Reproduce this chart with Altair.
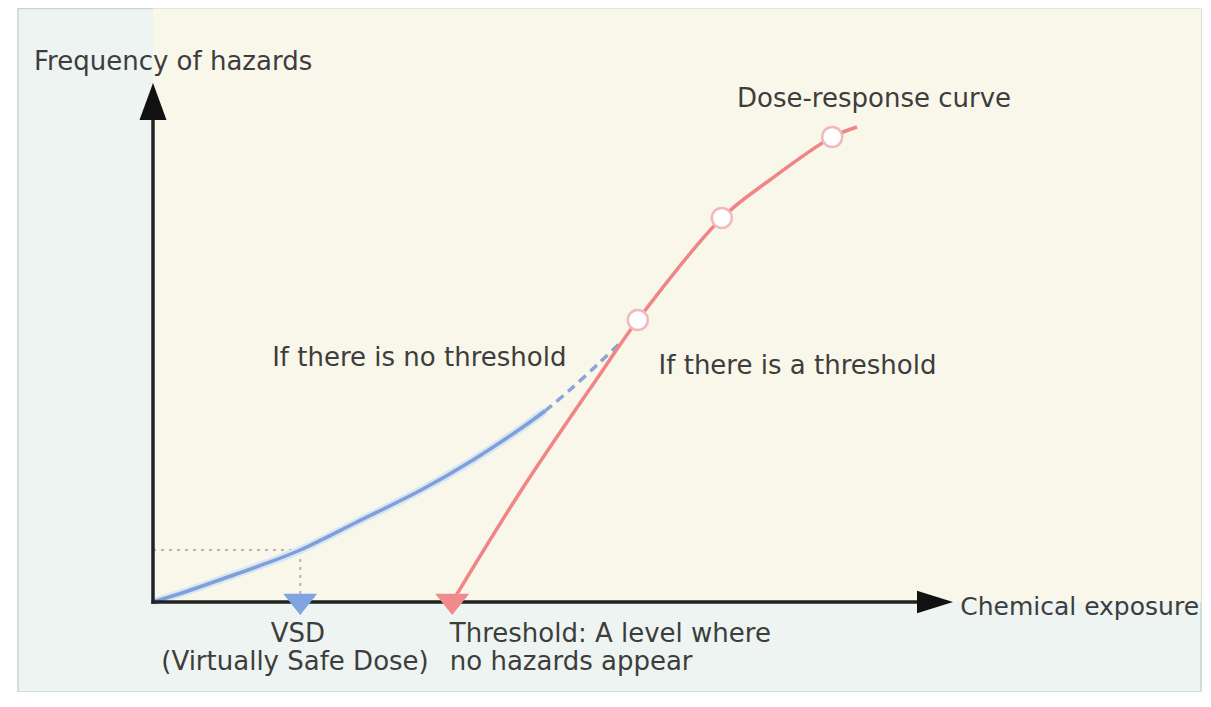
import altair as alt
import pandas as pd

# ---- scale domains (abstract units: exposure / frequency) ----
X_DOMAIN = [-18.125, 131.25]
Y_DOMAIN = [-15.0, 99.0]

# ---- curve data ----
blue_solid_dose = [0, 4, 9, 13.6, 18.4, 25.5, 33.75, 40, 46.25, 49]
blue_solid_freq = [0, 1.67, 4, 6.17, 8.67, 13.33, 18.83, 23.67, 29.17, 31.83]
blue_dash_dose = [49, 52.1, 55.9, 58.4]
blue_dash_freq = [31.83, 35.33, 40, 43.17]
red_dose = [37.4, 45.9, 55.9, 60.6, 71.1, 77.1, 84.9, 88]
red_freq = [0, 18.33, 38.0, 47.0, 64, 70.33, 77.5, 79.17]
circle_dose = [60.6, 71.1, 84.9]
circle_freq = [47.0, 64, 77.5]
vsd_dose = 18.4
vsd_freq = 8.67
threshold_dose = 37.4

# ---- axes extents ----
y_axis_top = 81.0
x_axis_end = 96.0
y_arrow_center = 83.4
x_arrow_center = 97.75

# ---- panel extents ----
frame_x = [-16.875, 131.0]
frame_y = [-15.0, 98.9]
cream_x = [0.0, 131.0]
cream_y = [0.0, 98.9]

# ---- labels ----
left_labels = ["Frequency of hazards", "Dose-response curve", "If there is no threshold",
               "If there is a threshold", "Threshold: A level where", "no hazards appear"]
left_x = [-14.875, 73.0, 14.9, 63.2, 37.1, 37.1]
left_y = [88.67, 82.5, 39.3, 38.0, -6.67, -11.33]
axis_label = ["Chemical exposure"]
axis_label_x = [100.9]
axis_label_y = [-2.17]
center_labels = ["VSD", "(Virtually Safe Dose)"]
center_x = [18.1, 17.75]
center_y = [-6.67, -11.33]

xs = alt.Scale(domain=X_DOMAIN, nice=False, zero=False)
ys = alt.Scale(domain=Y_DOMAIN, nice=False, zero=False)


def X(f):
    return alt.X(f, type="quantitative", scale=xs, axis=None)


def Y(f):
    return alt.Y(f, type="quantitative", scale=ys, axis=None)


def line_df(xv, yv):
    return pd.DataFrame({"x": xv, "y": yv, "i": list(range(len(xv)))})


frame = alt.Chart(pd.DataFrame({"x": [frame_x[0]], "x2": [frame_x[1]], "y": [frame_y[0]], "y2": [frame_y[1]]})).mark_rect(
    fill="#eef4f1", stroke="#c9d6c3", strokeWidth=1.5
).encode(x=X("x"), x2="x2", y=Y("y"), y2="y2")

cream = alt.Chart(pd.DataFrame({"x": [cream_x[0]], "x2": [cream_x[1]], "y": [cream_y[0]], "y2": [cream_y[1]]})).mark_rect(
    fill="#f8f7e9"
).encode(x=X("x"), x2="x2", y=Y("y"), y2="y2")

dotted_h = alt.Chart(pd.DataFrame({"x": [0], "x2": [vsd_dose], "y": [vsd_freq]})).mark_rule(
    color="#b5b5aa", strokeWidth=2, strokeDash=[3, 5]
).encode(x=X("x"), x2="x2", y=Y("y"))
dotted_v = alt.Chart(pd.DataFrame({"x": [vsd_dose], "y": [0], "y2": [vsd_freq]})).mark_rule(
    color="#b5b5aa", strokeWidth=2, strokeDash=[3, 5]
).encode(x=X("x"), y=Y("y"), y2="y2")

blue_glow = alt.Chart(line_df(blue_solid_dose, blue_solid_freq)).mark_line(
    color="#d6e6f6", strokeWidth=8, interpolate="catmull-rom"
).encode(x=X("x"), y=Y("y"), order="i:Q")
blue_line = alt.Chart(line_df(blue_solid_dose, blue_solid_freq)).mark_line(
    color="#7f9fd6", strokeWidth=3.5, interpolate="catmull-rom"
).encode(x=X("x"), y=Y("y"), order="i:Q")
blue_dash = alt.Chart(line_df(blue_dash_dose, blue_dash_freq)).mark_line(
    color="#8aa6d8", strokeWidth=3.5, strokeDash=[9, 6], interpolate="catmull-rom"
).encode(x=X("x"), y=Y("y"), order="i:Q")

red_line = alt.Chart(line_df(red_dose, red_freq)).mark_line(
    color="#f08486", strokeWidth=3.5, interpolate="catmull-rom"
).encode(x=X("x"), y=Y("y"), order="i:Q")

circles = alt.Chart(pd.DataFrame({"x": circle_dose, "y": circle_freq})).mark_point(
    shape="circle", size=400, filled=True, fill="white", stroke="#f0b9bc", strokeWidth=2.5, opacity=1
).encode(x=X("x"), y=Y("y"))

axes = alt.Chart(pd.DataFrame({"x": [0, -0.2], "x2": [0, x_axis_end], "y": [-0.3, 0], "y2": [y_axis_top, 0]})).mark_rule(
    color="#222222", strokeWidth=3.5
).encode(x=X("x"), x2="x2", y=Y("y"), y2="y2")

arrow_up = alt.Chart(pd.DataFrame({"x": [0], "y": [y_arrow_center]})).mark_point(
    shape="M0,-1L0.73,1L-0.73,1Z", size=1369, filled=True, color="#111111", opacity=1
).encode(x=X("x"), y=Y("y"))
arrow_right = alt.Chart(pd.DataFrame({"x": [x_arrow_center], "y": [0]})).mark_point(
    shape="M1,0L-1,-0.62L-1,0.62Z", size=1296, filled=True, color="#111111", opacity=1
).encode(x=X("x"), y=Y("y"))

markers = alt.Chart(pd.DataFrame({"x": [vsd_dose, threshold_dose], "y": [-0.4, -0.4], "c": ["VSD", "Threshold"]})).mark_point(
    shape="M-1,-0.62L1,-0.62L0,0.62Z", size=1156, filled=True, opacity=1
).encode(
    x=X("x"), y=Y("y"),
    color=alt.Color("c:N", scale=alt.Scale(domain=["VSD", "Threshold"], range=["#7fa4e0", "#f08a8c"]), legend=None),
)

txt_left = alt.Chart(pd.DataFrame({"x": left_x, "y": left_y, "t": left_labels})).mark_text(
    align="left", baseline="alphabetic", font="DejaVu Sans", fontSize=26, color="#3d3d3d"
).encode(x=X("x"), y=Y("y"), text="t:N")
txt_axis = alt.Chart(pd.DataFrame({"x": axis_label_x, "y": axis_label_y, "t": axis_label})).mark_text(
    align="left", baseline="alphabetic", font="DejaVu Sans", fontSize=25, color="#3d3d3d"
).encode(x=X("x"), y=Y("y"), text="t:N")
txt_center = alt.Chart(pd.DataFrame({"x": center_x, "y": center_y, "t": center_labels})).mark_text(
    align="center", baseline="alphabetic", font="DejaVu Sans", fontSize=26, color="#3d3d3d"
).encode(x=X("x"), y=Y("y"), text="t:N")

chart = alt.layer(
    frame, cream, dotted_h, dotted_v, blue_glow, blue_line, blue_dash, red_line, circles,
    axes, arrow_up, arrow_right, markers, txt_left, txt_axis, txt_center
).properties(
    width=1195, height=684, padding=0, autosize=alt.AutoSizeParams(type="none"), background="white"
).configure_view(stroke=None)

chart.save("out.html", embed_options={"renderer": "svg", "actions": False})
